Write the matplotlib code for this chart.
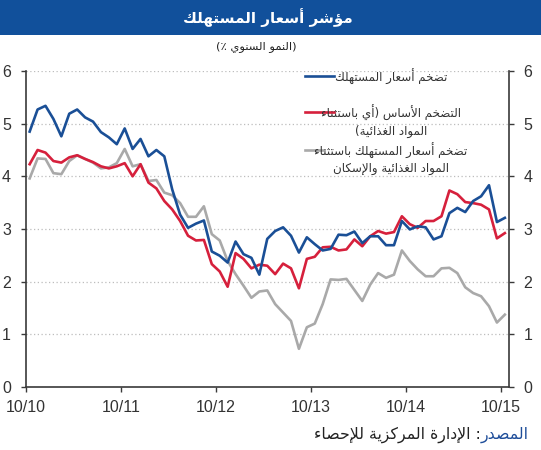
import matplotlib
matplotlib.use("Agg")
import matplotlib.pyplot as plt
from matplotlib.lines import Line2D
from matplotlib.patches import Rectangle
import numpy as np

# ---------------- data ----------------
tick_labels = ["10/10", "10/11", "10/12", "10/13", "10/14", "10/15"]

cpi = [4.85, 5.27, 5.34, 5.09, 4.76, 5.19, 5.27, 5.12, 5.04, 4.84,
       4.74, 4.61, 4.91, 4.52, 4.71, 4.38, 4.50, 4.38, 3.75, 3.27,
       3.02, 3.10, 3.16, 2.57, 2.49, 2.36, 2.76, 2.52, 2.45, 2.13,
       2.81, 2.96, 3.03, 2.87, 2.55, 2.84, 2.71, 2.59, 2.62, 2.89,
       2.88, 2.95, 2.73, 2.86, 2.86, 2.69, 2.69, 3.15, 2.99, 3.05,
       3.03, 2.80, 2.86, 3.30, 3.40, 3.32, 3.53, 3.62, 3.83, 3.13, 3.21]

core = [4.23, 4.50, 4.45, 4.29, 4.26, 4.36, 4.40, 4.33, 4.27, 4.19,
        4.15, 4.19, 4.25, 4.00, 4.23, 3.88, 3.77, 3.53, 3.37, 3.15,
        2.87, 2.78, 2.79, 2.33, 2.19, 1.90, 2.54, 2.43, 2.25, 2.32,
        2.30, 2.14, 2.34, 2.25, 1.87, 2.43, 2.47, 2.65, 2.66, 2.59,
        2.61, 2.80, 2.67, 2.86, 2.96, 2.91, 2.94, 3.24, 3.09, 3.02,
        3.15, 3.15, 3.24, 3.73, 3.66, 3.51, 3.49, 3.46, 3.37, 2.82, 2.92]

ex_food_housing = [3.96, 4.34, 4.33, 4.06, 4.04, 4.29, 4.40, 4.33, 4.26, 4.15,
                   4.17, 4.25, 4.52, 4.19, 4.23, 3.91, 3.93, 3.69, 3.64, 3.49,
                   3.23, 3.23, 3.43, 2.90, 2.78, 2.39, 2.14, 1.92, 1.69, 1.81,
                   1.83, 1.57, 1.41, 1.25, 0.72, 1.13, 1.20, 1.57, 2.04, 2.03,
                   2.05, 1.84, 1.63, 1.94, 2.16, 2.07, 2.13, 2.59, 2.39, 2.23,
                   2.10, 2.10, 2.25, 2.26, 2.16, 1.89, 1.78, 1.72, 1.53, 1.22, 1.37]

title_txt = "مؤشر أسعار المستهلك"
subtitle_txt = "(النمو السنوي ٪)"
leg1 = ["تضخم أسعار المستهلك"]
leg2 = ["التضخم الأساس (أي باستثناء", "المواد الغذائية)"]
leg3 = ["تضخم أسعار المستهلك باستثناء", "المواد الغذائية والإسكان"]
src_label = "المصدر"
src_txt = ": الإدارة المركزية للإحصاء"

# ---------------- Arabic shaping (presentation forms, visual order) ----------------
FORMS = {
    '\u0621': (0xFE80, 'N'), '\u0622': (0xFE81, 'R'), '\u0623': (0xFE83, 'R'),
    '\u0624': (0xFE85, 'R'), '\u0625': (0xFE87, 'R'), '\u0626': (0xFE89, 'D'),
    '\u0627': (0xFE8D, 'R'), '\u0628': (0xFE8F, 'D'), '\u0629': (0xFE93, 'R'),
    '\u062A': (0xFE95, 'D'), '\u062B': (0xFE99, 'D'), '\u062C': (0xFE9D, 'D'),
    '\u062D': (0xFEA1, 'D'), '\u062E': (0xFEA5, 'D'), '\u062F': (0xFEA9, 'R'),
    '\u0630': (0xFEAB, 'R'), '\u0631': (0xFEAD, 'R'), '\u0632': (0xFEAF, 'R'),
    '\u0633': (0xFEB1, 'D'), '\u0634': (0xFEB5, 'D'), '\u0635': (0xFEB9, 'D'),
    '\u0636': (0xFEBD, 'D'), '\u0637': (0xFEC1, 'D'), '\u0638': (0xFEC5, 'D'),
    '\u0639': (0xFEC9, 'D'), '\u063A': (0xFECD, 'D'), '\u0641': (0xFED1, 'D'),
    '\u0642': (0xFED5, 'D'), '\u0643': (0xFED9, 'D'), '\u0644': (0xFEDD, 'D'),
    '\u0645': (0xFEE1, 'D'), '\u0646': (0xFEE5, 'D'), '\u0647': (0xFEE9, 'D'),
    '\u0648': (0xFEED, 'R'), '\u0649': (0xFEEF, 'R'), '\u064A': (0xFEF1, 'D'),
}
LAMALEF = {'\u0622': 0xFEF5, '\u0623': 0xFEF7, '\u0625': 0xFEF9, '\u0627': 0xFEFB}


def shape(s):
    ch = list(s)
    n = len(ch)
    out = []

    def fwd(c):
        return c in FORMS and FORMS[c][1] == 'D'

    def joinable(c):
        return c in FORMS and FORMS[c][1] in 'DR'

    i = 0
    while i < n:
        c = ch[i]
        if c not in FORMS:
            out.append(c)
            i += 1
            continue
        cp = i > 0 and fwd(ch[i - 1])
        if c == '\u0644' and i + 1 < n and ch[i + 1] in LAMALEF:
            out.append(chr(LAMALEF[ch[i + 1]] + (1 if cp else 0)))
            i += 2
            continue
        base, typ = FORMS[c]
        cn = typ == 'D' and i + 1 < n and joinable(ch[i + 1])
        if typ == 'N':
            f = base
        elif typ == 'R':
            f = base + (1 if cp else 0)
        else:
            if cp and cn:
                f = base + 3
            elif cp:
                f = base + 1
            elif cn:
                f = base + 2
            else:
                f = base
        out.append(chr(f))
        i += 1
    vis = ''.join(reversed(out))
    return vis.translate(str.maketrans('()', ')('))


# ---------------- figure ----------------
W, H = 541, 450
fig = plt.figure(figsize=(W / 100, H / 100), dpi=100)
fig.patch.set_facecolor('white')

def fx(x):
    return x / W

def fy(y):
    return 1 - y / H

AR = ['DejaVu Sans']
NUM = ['Liberation Sans', 'DejaVu Sans']

# title bar
fig.add_artist(Rectangle((0, fy(35)), 1, 35 / H, transform=fig.transFigure,
                         facecolor='#11509b', edgecolor='none', zorder=0))

ax = fig.add_axes([fx(25.7), fy(386.7), fx(508.8) - fx(25.7), fy(71.1) - fy(386.7)])

x = np.arange(len(cpi)) + 0.5
ax.plot(x, ex_food_housing, color='#a9a9a9', lw=1.9, zorder=3, solid_joinstyle='round')
ax.plot(x, core, color='#d6203c', lw=1.9, zorder=4, solid_joinstyle='round')
ax.plot(x, cpi, color='#1a4f96', lw=1.9, zorder=5, solid_joinstyle='round')

ax.set_xlim(0, 61)
ax.set_ylim(0, 6)
ax.set_xticks(np.arange(len(tick_labels)) * 12)
ax.set_xticklabels(tick_labels)
ax.set_yticks(range(0, 7))
ax.yaxis.grid(True, linestyle=(0, (1, 2)), color='#bdbdbd', lw=0.9)
ax.set_axisbelow(True)
for s in ['left', 'right', 'bottom']:
    ax.spines[s].set_color('#3a3a3a')
    ax.spines[s].set_linewidth(1.2)
ax.spines['top'].set_visible(False)
ax.tick_params(axis='y', which='both', left=True, right=True, labelleft=True,
               labelright=True, direction='out', length=3.5, width=1.0,
               color='#3a3a3a', pad=7, labelsize=11.5, labelcolor='#333333')
ax.tick_params(axis='x', direction='out', length=3.5, width=1.0, color='#3a3a3a',
               pad=6, labelsize=11.5, labelcolor='#333333')
for lab in ax.get_xticklabels():
    lab.set_fontfamily(NUM)
for tk in ax.yaxis.get_major_ticks():
    tk.label1.set_fontfamily(NUM)
    tk.label2.set_fontfamily(NUM)

# texts
texts_to_fit = []

t_title = fig.text(fx(268), fy(18), shape(title_txt), ha='center', va='center',
                   color='white', fontsize=13, fontweight='bold', family=AR)
texts_to_fit.append((t_title, 170))
t_sub = fig.text(fx(256), fy(47), shape(subtitle_txt), ha='center', va='center',
                 color='#222222', fontsize=9, family=AR)
texts_to_fit.append((t_sub, 80))

leg_x = 391
t_l1 = fig.text(fx(leg_x), fy(76.5), shape(leg1[0]), ha='center', va='center',
                color='#333333', fontsize=8, family=AR)
t_l2a = fig.text(fx(leg_x), fy(112.5), shape(leg2[0]), ha='center', va='center',
                 color='#333333', fontsize=8, family=AR)
t_l2b = fig.text(fx(leg_x), fy(131), shape(leg2[1]), ha='center', va='center',
                 color='#333333', fontsize=8, family=AR)
t_l3a = fig.text(fx(leg_x), fy(150.5), shape(leg3[0]), ha='center', va='center',
                 color='#333333', fontsize=8, family=AR)
t_l3b = fig.text(fx(leg_x), fy(168.5), shape(leg3[1]), ha='center', va='center',
                 color='#333333', fontsize=8, family=AR)

fig.add_artist(Line2D([fx(305), fx(334)], [fy(76), fy(76)], transform=fig.transFigure,
                      color='#1a4f96', lw=1.9))
fig.add_artist(Line2D([fx(305), fx(334)], [fy(112), fy(112)], transform=fig.transFigure,
                      color='#d6203c', lw=1.9))
fig.add_artist(Line2D([fx(305), fx(324)], [fy(150), fy(150)], transform=fig.transFigure,
                      color='#a9a9a9', lw=1.9))

t_src1 = fig.text(fx(529), fy(435), shape(src_label), ha='right', va='center',
                  color='#1f4e9a', fontsize=9, family=AR)
t_src2 = ax.annotate(shape(src_txt), xy=(0, 0.5), xycoords=t_src1, ha='right',
                     va='center', color='#222222', fontsize=9, family=AR,
                     annotation_clip=False)

fig.canvas.draw()
r = fig.canvas.get_renderer()
for t, w in texts_to_fit:
    cw = t.get_window_extent(r).width
    t.set_fontsize(t.get_fontsize() * w / cw)
# legend: common size from row 1
cw = t_l1.get_window_extent(r).width
leg_fs = t_l1.get_fontsize() * 112 / cw
for t in [t_l1, t_l2a, t_l2b, t_l3a, t_l3b]:
    t.set_fontsize(leg_fs)
# source: fit total width
tot = t_src1.get_window_extent(r).width + t_src2.get_window_extent(r).width
src_fs = 9 * 215 / tot
t_src1.set_fontsize(src_fs)
t_src2.set_fontsize(src_fs)

fig.savefig('out.png', dpi=100, facecolor='white')
